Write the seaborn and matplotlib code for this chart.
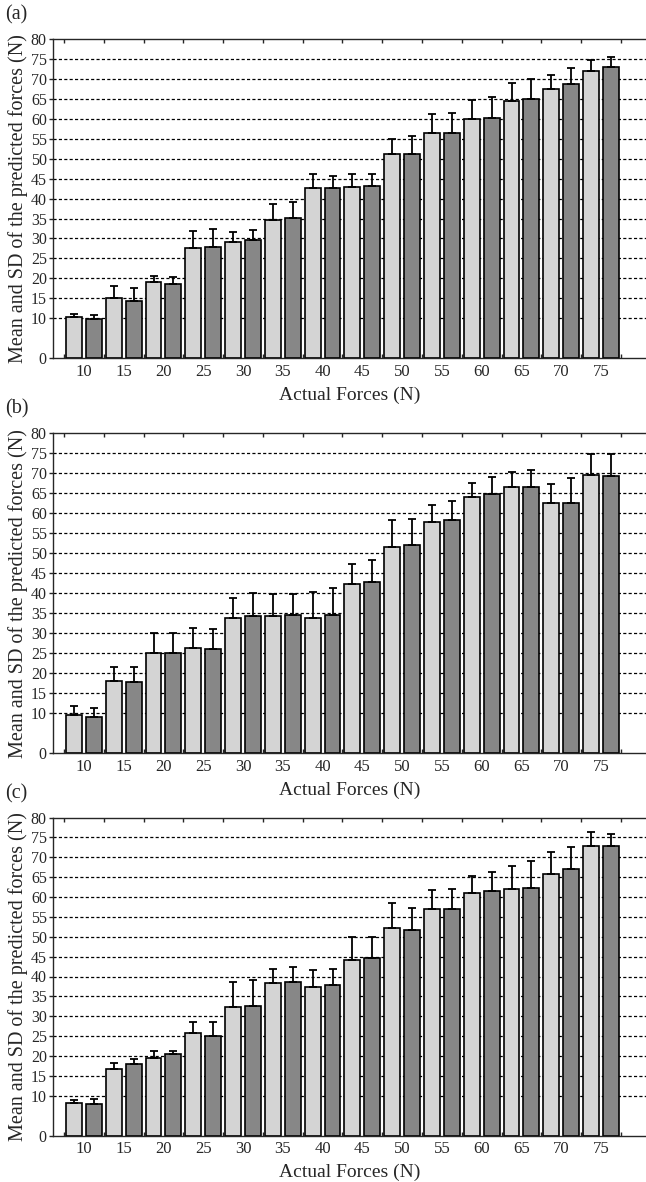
import numpy as np
import pandas as pd
import seaborn as sns
import matplotlib.pyplot as plt

# actual forces (N) - the categories on the x axis
forces = [10, 15, 20, 25, 30, 35, 40, 45, 50, 55, 60, 65, 70, 75]

# panel (a)
a_light_mean = [10.25, 15.0, 19.0, 27.6, 29.1, 34.7, 42.6, 43.0, 51.1, 56.5, 60.0, 64.6, 67.5, 72.1]
a_light_sd = [0.85, 3.1, 1.6, 4.2, 2.5, 3.95, 3.65, 3.3, 3.9, 4.8, 4.8, 4.4, 3.6, 2.7]
a_dark_mean = [9.8, 14.3, 18.7, 27.9, 29.5, 35.1, 42.7, 43.3, 51.25, 56.5, 60.3, 65.0, 68.9, 73.1]
a_dark_sd = [0.95, 3.3, 1.55, 4.45, 2.6, 4.1, 3.1, 3.0, 4.45, 5.0, 5.1, 5.1, 3.9, 2.4]

# panel (b)
b_light_mean = [9.4, 18.1, 24.9, 26.3, 33.7, 34.4, 33.9, 42.2, 51.5, 57.9, 64.0, 66.5, 62.5, 69.5]
b_light_sd = [2.4, 3.35, 5.1, 4.9, 5.2, 5.3, 6.35, 5.1, 6.9, 4.1, 3.6, 3.8, 4.8, 5.3]
b_dark_mean = [9.0, 17.7, 24.9, 26.0, 34.4, 34.65, 34.6, 42.8, 52.1, 58.2, 64.9, 66.6, 62.6, 69.3]
b_dark_sd = [2.3, 3.75, 5.1, 5.1, 5.7, 5.15, 6.65, 5.6, 6.5, 4.8, 4.1, 4.2, 6.1, 5.5]

# panel (c)
c_light_mean = [8.1, 16.7, 19.5, 25.7, 32.4, 38.3, 37.4, 44.2, 52.1, 57.1, 60.9, 61.9, 65.8, 72.8]
c_light_sd = [0.9, 1.5, 1.8, 2.9, 6.3, 3.6, 4.2, 5.65, 6.5, 4.6, 4.4, 5.9, 5.5, 3.6]
c_dark_mean = [7.85, 17.9, 20.6, 25.0, 32.6, 38.7, 37.9, 44.7, 51.6, 57.0, 61.6, 62.2, 67.0, 72.8]
c_dark_sd = [1.35, 1.3, 0.7, 3.6, 6.4, 3.8, 4.1, 5.3, 5.7, 5.1, 4.6, 6.8, 5.6, 2.95]

y_ticks = [0, 10, 15, 20, 25, 30, 35, 40, 45, 50, 55, 60, 65, 70, 75, 80]

panels = [
    ("(a)", a_light_mean, a_light_sd, a_dark_mean, a_dark_sd),
    ("(b)", b_light_mean, b_light_sd, b_dark_mean, b_dark_sd),
    ("(c)", c_light_mean, c_light_sd, c_dark_mean, c_dark_sd),
]

sns.set_style("ticks")
plt.rcParams["font.family"] = ["Liberation Serif", "DejaVu Serif"]

W, H = 646, 1182
fig = plt.figure(figsize=(W / 100, H / 100), dpi=100)

light = "#d4d4d4"
dark = "#878787"

tops = [39.3, 433.3, 817.5]
bottoms = [358, 753, 1135.5]
left_px = 53

for (tag, lm, ls, dm, ds), top, bot in zip(panels, tops, bottoms):
    ax = fig.add_axes([left_px / W, 1 - bot / H, 1 - left_px / W, (bot - top) / H])
    df = pd.DataFrame({
        "force": [str(f) for f in forces] * 2,
        "series": ["light"] * len(forces) + ["dark"] * len(forces),
        "mean": lm + dm,
    })
    sns.barplot(data=df, x="force", y="mean", hue="series",
                palette=[light, dark], width=1.0, gap=0.2,
                edgecolor="black", linewidth=1.2, errorbar=None,
                legend=False, ax=ax)

    # upper-only SD bars
    for cont, sds in zip(ax.containers, [ls, ds]):
        xs = [p.get_x() + p.get_width() / 2 for p in cont.patches]
        hs = [p.get_height() for p in cont.patches]
        ax.errorbar(xs, hs, yerr=[np.zeros(len(sds)), sds], fmt="none",
                    ecolor="black", elinewidth=1.3, capsize=3, capthick=1.3,
                    zorder=1.5)

    ax.set_axisbelow(True)
    ax.set_ylim(0, 80)
    ax.set_xlim(-0.777, 14.13)
    ax.set_yticks(y_ticks)
    for y in y_ticks[1:-1]:
        ax.axhline(y, color="black", lw=0.9, ls=(0, (2.5, 1.8)), zorder=0.5)

    ax.set_xticks(range(len(forces)))
    ax.set_xticklabels([str(f) for f in forces])
    ax.set_xticks(np.arange(-0.5, len(forces)), minor=True)
    ax.tick_params(axis="x", which="major", length=0, pad=4, labelsize=12)
    ax.tick_params(axis="x", which="minor", direction="in", length=3,
                   width=1, top=True, bottom=True)
    ax.tick_params(axis="y", which="major", direction="out", length=3,
                   width=1, pad=1.5, labelsize=11.5)

    ax.spines["right"].set_visible(False)
    for s in ["left", "top", "bottom"]:
        ax.spines[s].set_linewidth(1.0)

    ax.set_xlabel("Actual Forces (N)", fontsize=14, labelpad=5)
    ax.set_ylabel("Mean and SD of the predicted forces (N)", fontsize=14.5,
                  labelpad=2)
    fig.text(5 / W, 1 - (top - 24) / H, tag, fontsize=14.5, va="center",
             ha="left")

fig.savefig("out.png", dpi=100)
